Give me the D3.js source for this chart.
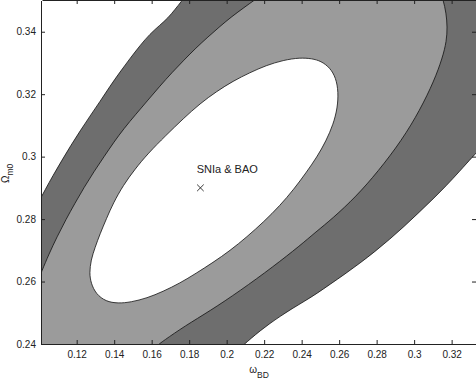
<!DOCTYPE html>
<html>
<head>
<meta charset="utf-8">
<script src="https://cdn.jsdelivr.net/npm/d3@7"></script>
<style>
  html, body { margin: 0; padding: 0; background: #fff; }
  svg { display: block; font-family: "Liberation Sans", Arial, sans-serif; }
</style>
</head>
<body>
<svg width="476" height="382"></svg>
<script>
'use strict'

const X_TICKS = [0.12, 0.14, 0.16, 0.18, 0.2, 0.22, 0.24, 0.26, 0.28, 0.3, 0.32];
const Y_TICKS = [0.24, 0.26, 0.28, 0.3, 0.32, 0.34];

// contour branches, [omega_BD, Omega_m0]
const sigma3Upper = [
  [0.0994, 0.2851], [0.1031, 0.2893], [0.1074, 0.2940], [0.1122, 0.2989],
  [0.1170, 0.3037], [0.1218, 0.3082], [0.1271, 0.3130], [0.1324, 0.3176],
  [0.1378, 0.3226], [0.1431, 0.3271], [0.1484, 0.3314], [0.1538, 0.3356],
  [0.1591, 0.3393], [0.1644, 0.3421], [0.1687, 0.3444], [0.1724, 0.3471],
  [0.1760, 0.3498], [0.1783, 0.3518]
];
const sigma3Lower = [
  [0.3362, 0.3031], [0.3312, 0.3000], [0.3244, 0.2954], [0.3170, 0.2906],
  [0.3095, 0.2861], [0.3020, 0.2818], [0.2946, 0.2776], [0.2871, 0.2736],
  [0.2791, 0.2696], [0.2711, 0.2659], [0.2631, 0.2624], [0.2551, 0.2591],
  [0.2482, 0.2562], [0.2418, 0.2538], [0.2348, 0.2513], [0.2284, 0.2488],
  [0.2231, 0.2466], [0.2178, 0.2442], [0.2130, 0.2418], [0.2092, 0.2398],
  [0.2071, 0.2387]
];
const sigma2Upper = [
  [0.0988, 0.2595], [0.1013, 0.2632], [0.1052, 0.2688], [0.1095, 0.2743],
  [0.1143, 0.2799], [0.1191, 0.2851], [0.1239, 0.2901], [0.1292, 0.2952],
  [0.1346, 0.3000], [0.1399, 0.3047], [0.1452, 0.3090], [0.1516, 0.3136],
  [0.1580, 0.3181], [0.1644, 0.3226], [0.1708, 0.3269], [0.1772, 0.3309],
  [0.1836, 0.3348], [0.1900, 0.3383], [0.1964, 0.3417], [0.2028, 0.3449],
  [0.2092, 0.3477], [0.2156, 0.3505], [0.2210, 0.3527]
];
const sigma2Lower = [
  [0.3132, 0.3546], [0.3155, 0.3502], [0.3171, 0.3460], [0.3177, 0.3415],
  [0.3173, 0.3370], [0.3151, 0.3316], [0.3106, 0.3242], [0.3031, 0.3149],
  [0.2935, 0.3053], [0.2807, 0.2952], [0.2690, 0.2872], [0.2565, 0.2802],
  [0.2476, 0.2759], [0.2391, 0.2715], [0.2249, 0.2648], [0.2071, 0.2570],
  [0.1911, 0.2506], [0.1778, 0.2458], [0.1662, 0.2410], [0.1618, 0.2390]
];
const sigma1 = [
  [0.1268, 0.2627], [0.1276, 0.2669], [0.1298, 0.2709], [0.1324, 0.2752],
  [0.1360, 0.2803], [0.1394, 0.2850], [0.1449, 0.2909], [0.1511, 0.2960],
  [0.1580, 0.3010], [0.1676, 0.3068], [0.1769, 0.3122], [0.1858, 0.3170],
  [0.1947, 0.3209], [0.2034, 0.3242], [0.2124, 0.3269], [0.2210, 0.3292],
  [0.2302, 0.3309], [0.2391, 0.3317], [0.2455, 0.3314], [0.2503, 0.3306],
  [0.2551, 0.3285], [0.2583, 0.3252], [0.2596, 0.3207], [0.2591, 0.3156],
  [0.2569, 0.3104], [0.2530, 0.3050], [0.2482, 0.2999], [0.2423, 0.2948],
  [0.2359, 0.2896], [0.2284, 0.2843], [0.2199, 0.2792], [0.2108, 0.2743],
  [0.2018, 0.2699], [0.1927, 0.2661], [0.1836, 0.2626], [0.1751, 0.2595],
  [0.1660, 0.2568], [0.1575, 0.2547], [0.1490, 0.2534], [0.1420, 0.2530],
  [0.1356, 0.2536], [0.1303, 0.2560], [0.1276, 0.2595]
];

const bestFit = [0.186, 0.290];
const bestFitLabel = { text: 'SNIa & BAO', at: [0.184, 0.2947] };

const DARK = '#6e6e6e';
const LIGHT = '#9b9b9b';

const svg = d3.select('svg');

const x = d3.scaleLinear().domain([0.1015, 0.333]).range([42, 476]);
const y = d3.scaleLinear().domain([0.24, 0.35]).range([344, 0.5]);

svg.append('clipPath')
  .attr('id', 'plot-clip')
  .append('rect')
  .attr('x', 42)
  .attr('y', 0)
  .attr('width', 434)
  .attr('height', 344);

const plot = svg.append('g').attr('clip-path', 'url(#plot-clip)');

// b-spline smooths out the reading error in the hand-picked points
const line = d3.line()
  .x(d => x(d[0]))
  .y(d => y(d[1]))
  .curve(d3.curveBasis);

const loop = d3.line()
  .x(d => x(d[0]))
  .y(d => y(d[1]))
  .curve(d3.curveBasisClosed);

// region between two branches, closed round the outside of the frame
function bandPath(upper, mid, lower, end) {
  const pts = arr => arr.map(c => 'L' + x(c[0]) + ',' + y(c[1])).join('');
  return line(upper) + pts(mid) + line(lower).replace(/^M/, 'L') + pts(end) + 'Z';
}

plot.append('path')
  .attr('d', bandPath(sigma3Upper, [[0.345, 0.36]], sigma3Lower, [[0.09, 0.23]]))
  .attr('fill', DARK);

plot.append('path')
  .attr('d', bandPath(sigma2Upper, [], sigma2Lower, [[0.09, 0.23]]))
  .attr('fill', LIGHT);

plot.append('path')
  .attr('d', loop(sigma1))
  .attr('fill', '#fff');

[sigma3Upper, sigma3Lower, sigma2Upper, sigma2Lower].forEach(branch => {
  plot.append('path')
    .attr('d', line(branch))
    .attr('fill', 'none')
    .attr('stroke', '#111')
    .attr('stroke-width', 0.8);
});

plot.append('path')
  .attr('d', loop(sigma1))
  .attr('fill', 'none')
  .attr('stroke', '#111')
  .attr('stroke-width', 0.8);

plot.append('path')
  .attr('transform', `translate(${x(bestFit[0])},${y(bestFit[1])})`)
  .attr('d', d3.symbol(d3.symbolX, 30)())
  .attr('fill', 'none')
  .attr('stroke', '#222')
  .attr('stroke-width', 0.9);

plot.append('text')
  .attr('x', x(bestFitLabel.at[0]))
  .attr('y', y(bestFitLabel.at[1]))
  .attr('font-size', 11)
  .attr('fill', '#222')
  .text(bestFitLabel.text);

// axes, ticks pointing inwards on all four sides
const fmt = d => String(d);

svg.append('g')
  .attr('transform', 'translate(0,344)')
  .call(d3.axisBottom(x).tickValues(X_TICKS).tickFormat(fmt).tickSizeInner(-4).tickSizeOuter(0).tickPadding(7));

svg.append('g')
  .attr('transform', 'translate(41,0)')
  .call(d3.axisLeft(y).tickValues(Y_TICKS).tickFormat(fmt).tickSizeInner(-4).tickSizeOuter(0).tickPadding(5));

svg.append('g')
  .attr('transform', 'translate(0,0)')
  .call(d3.axisTop(x).tickValues(X_TICKS).tickFormat('').tickSizeInner(-4).tickSizeOuter(0));

svg.append('g')
  .attr('transform', 'translate(476,0)')
  .call(d3.axisRight(y).tickValues(Y_TICKS).tickFormat('').tickSizeInner(-4).tickSizeOuter(0));

svg.selectAll('.domain, .tick line').attr('stroke', '#222');
svg.selectAll('.tick text')
  .attr('fill', '#222')
  .attr('font-size', 10)
  .attr('font-family', '"Liberation Sans", Arial, sans-serif');

const xLabel = svg.append('text')
  .attr('x', 259)
  .attr('y', 373)
  .attr('text-anchor', 'middle')
  .attr('font-size', 10)
  .attr('fill', '#222');
xLabel.append('tspan').text('ω');
xLabel.append('tspan').attr('font-size', 8.5).attr('dy', 4.8).text('BD');

const yLabel = svg.append('text')
  .attr('transform', 'translate(8.5,173.3) rotate(-90)')
  .attr('text-anchor', 'middle')
  .attr('font-size', 10)
  .attr('fill', '#222');
yLabel.append('tspan').text('Ω');
yLabel.append('tspan').attr('font-size', 8.5).attr('dy', 4.5).text('m0');
</script>
</body>
</html>
